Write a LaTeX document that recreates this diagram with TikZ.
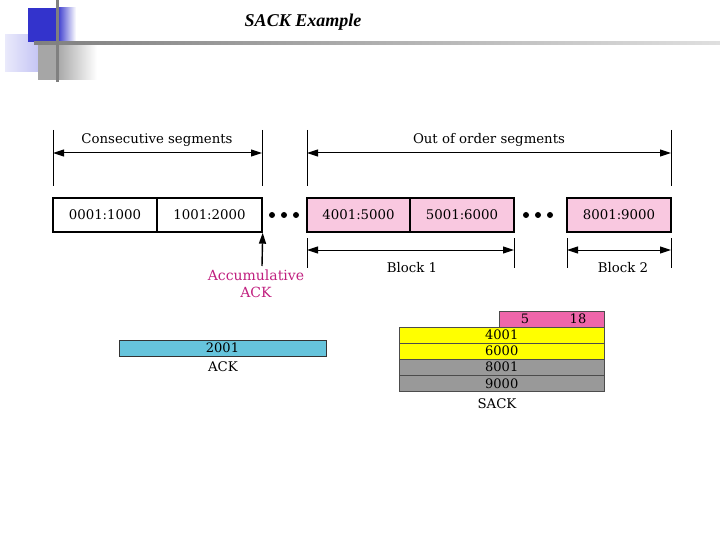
\documentclass[tikz,border=0pt]{standalone}
\usepackage{fontspec}
\setmainfont{DejaVu Serif}
\newfontfamily\titlefont{Liberation Serif}
\usetikzlibrary{arrows.meta}
\definecolor{segpink}{HTML}{F9C8E0}
\definecolor{ackmag}{HTML}{C0207F}
\definecolor{ackcyan}{HTML}{66C4DC}
\definecolor{hotpink}{HTML}{EE66AA}
\definecolor{sackyel}{HTML}{FFFF00}
\definecolor{sackgray}{HTML}{999999}
\definecolor{decblue}{HTML}{3333CC}
\definecolor{declav}{HTML}{B8B8F2}
\definecolor{decgray}{HTML}{A6A6A6}
\tikzset{
  seg/.style={draw=black, line width=1.4pt, minimum height=34pt, inner sep=0pt, font=\fontsize{13.3}{13}\selectfont},
  dim/.style={line width=1pt, {Triangle[length=11pt,width=7pt]}-{Triangle[length=11pt,width=7pt]}},
  tick/.style={line width=1pt},
  lbl/.style={font=\fontsize{13.3}{14}\selectfont, inner sep=0pt},
  row/.style={draw=black!70, line width=0.5pt, minimum height=15.6pt, inner sep=0pt, font=\fontsize{13}{13}\selectfont},
  dot/.style={circle, fill=black, inner sep=0pt, minimum size=6pt}
}
\begin{document}
\begin{tikzpicture}[x=1pt,y=-1pt]
\useasboundingbox (0,0) rectangle (720,540);
% decoration
\shade[left color=declav!30, right color=declav] (5,35) rectangle (50,72);
\fill[decblue] (28,8) rectangle (57,42);
\shade[left color=decblue, right color=white] (57,8) rectangle (76,42);
\fill[decgray] (38,43) rectangle (57,80);
\shade[left color=decgray, right color=white] (57,43) rectangle (97,80);
\shade[left color=gray, right color=gray!25] (34,42) rectangle (720,45);
\fill[gray] (55.5,0) rectangle (58.5,82);
\node[font=\titlefont\bfseries\itshape\fontsize{18}{18}\selectfont] (title) at (303,22) {SACK Example};
% segments
\node[seg, minimum width=104pt] (s1) at (105,215) {0001:1000};
\node[seg, minimum width=105pt] (s2) at (209.5,215) {1001:2000};
\node[seg, fill=segpink, minimum width=103pt] (s3) at (358.5,215) {4001:5000};
\node[seg, fill=segpink, minimum width=104pt] (s4) at (462,215) {5001:6000};
\node[seg, fill=segpink, minimum width=104pt] (s5) at (619,215) {8001:9000};
% dots
\node[dot] (d1) at (272,215) {};
\node[dot] (d2) at (284,215) {};
\node[dot] (d3) at (296,215) {};
\node[dot] (d4) at (526,215) {};
\node[dot] (d5) at (538,215) {};
\node[dot] (d6) at (550,215) {};
% top ticks
\coordinate (t1a) at (53,130); \coordinate (t1b) at (53,186);
\coordinate (t2a) at (262,130); \coordinate (t2b) at (262,186);
\coordinate (t3a) at (307,130); \coordinate (t3b) at (307,186);
\coordinate (t4a) at (671,130); \coordinate (t4b) at (671,186);
\draw[tick] (t1a) -- (t1b); \draw[tick] (t2a) -- (t2b);
\draw[tick] (t3a) -- (t3b); \draw[tick] (t4a) -- (t4b);
\coordinate (c1) at (53,153); \coordinate (c2) at (262,153);
\coordinate (o1) at (307,153); \coordinate (o2) at (671,153);
\draw[dim] (c1) -- (c2);
\draw[dim] (o1) -- (o2);
\node[lbl] (consec) at (157,140) {Consecutive segments};
\node[lbl] (ooo) at (489,140) {Out of order segments};
% bottom ticks
\coordinate (b1a) at (307,238); \coordinate (b1b) at (307,268);
\coordinate (b2a) at (514,238); \coordinate (b2b) at (514,268);
\coordinate (b3a) at (567,238); \coordinate (b3b) at (567,268);
\coordinate (b4a) at (671,238); \coordinate (b4b) at (671,268);
\draw[tick] (b1a) -- (b1b); \draw[tick] (b2a) -- (b2b);
\draw[tick] (b3a) -- (b3b); \draw[tick] (b4a) -- (b4b);
\coordinate (k1) at (307,250); \coordinate (k2) at (514,250);
\coordinate (k3) at (567,250); \coordinate (k4) at (671,250);
\draw[dim] (k1) -- (k2);
\draw[dim] (k3) -- (k4);
\node[lbl] (blk1) at (412,268) {Block 1};
\node[lbl] (blk2) at (623,268) {Block 2};
% accumulative ack
\node[lbl, text=ackmag, align=center, font=\fontsize{14}{17}\selectfont] (accack) at (256,284) {Accumulative\\ACK};
\coordinate (accbase) at (262,266);
\draw[line width=1.4pt, -{Triangle[length=11pt,width=7pt]}] (accbase) -- (s2.south east);
% ACK bar
\node[row, fill=ackcyan, minimum width=207pt, draw=black!80] (ackbar) at (222.5,348) {2001};
\node[lbl] (acklbl) at (223,367) {ACK};
% SACK
\node[row, fill=hotpink, minimum width=105pt, anchor=north west] (sh) at (499,311) {};
\node[font=\fontsize{13}{13}\selectfont, inner sep=0pt] (n5) at (525,319) {5};
\node[font=\fontsize{13}{13}\selectfont, inner sep=0pt] (n18) at (578,319) {18};
\node[row, fill=sackyel, minimum width=205pt, anchor=north west] (r1) at (399,327) {4001};
\node[row, fill=sackyel, minimum width=205pt, anchor=north west] (r2) at (r1.south west) {6000};
\node[row, fill=sackgray, minimum width=205pt, anchor=north west] (r3) at (r2.south west) {8001};
\node[row, fill=sackgray, minimum width=205pt, anchor=north west] (r4) at (r3.south west) {9000};
\node[lbl] (sacklbl) at (497,404) {SACK};
\end{tikzpicture}
\end{document}
